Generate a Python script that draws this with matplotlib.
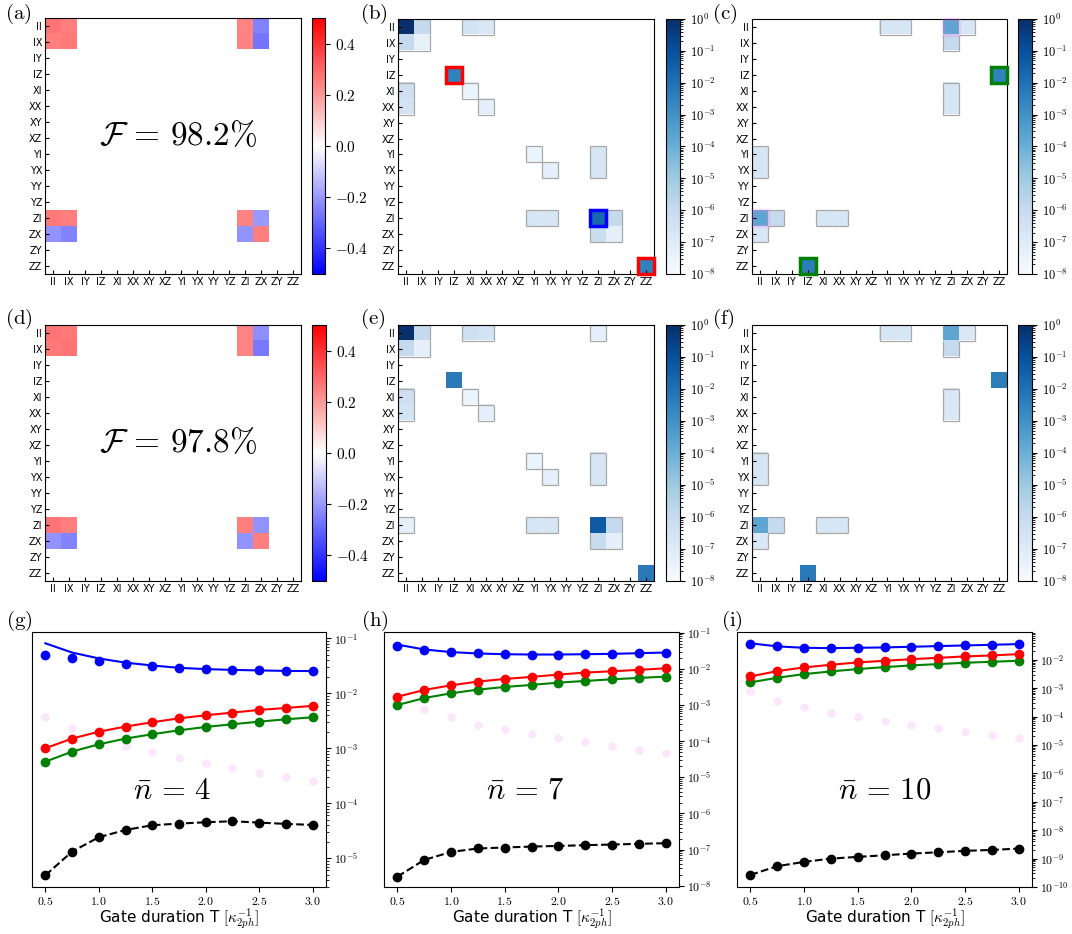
import numpy as np
import matplotlib
matplotlib.use('Agg')
import matplotlib.pyplot as plt
from matplotlib.colors import LogNorm, Normalize
from matplotlib.patches import Rectangle
from matplotlib.collections import LineCollection
from matplotlib.ticker import FuncFormatter, LogLocator

plt.rcParams['mathtext.fontset'] = 'cm'

paulis = ['II', 'IX', 'IY', 'IZ', 'XI', 'XX', 'XY', 'XZ',
          'YI', 'YX', 'YY', 'YZ', 'ZI', 'ZX', 'ZY', 'ZZ']

# real part of the process matrix, non-zero block only
block_labels = ['II', 'IX', 'ZI', 'ZX']
chi_re_a = [[0.27, 0.25, 0.24, -0.24],
            [0.25, 0.26, 0.24, -0.27],
            [0.26, 0.25, 0.24, -0.20],
            [-0.21, -0.24, -0.21, 0.25]]
chi_re_d = [[0.27, 0.26, 0.24, -0.22],
            [0.26, 0.27, 0.24, -0.26],
            [0.27, 0.25, 0.25, -0.21],
            [-0.21, -0.24, -0.21, 0.25]]
fidelity_a = 98.2
fidelity_d = 97.8

# |error process matrix| entries (row, col, value)
err_b = [('II', 'II', 0.9), ('II', 'IX', 1e-6), ('IX', 'II', 1e-6), ('IX', 'IX', 4e-8),
         ('II', 'XI', 3e-7), ('II', 'XX', 1.5e-7),
         ('IZ', 'IZ', 3e-3),
         ('XI', 'II', 5e-7), ('XX', 'II', 3e-7), ('XI', 'XI', 3e-8), ('XX', 'XX', 5e-8),
         ('YI', 'YI', 3e-8), ('YX', 'YX', 5e-8), ('YI', 'ZI', 2e-7), ('YX', 'ZI', 2e-7),
         ('ZI', 'YI', 2e-7), ('ZI', 'YX', 2e-7), ('ZI', 'ZI', 2e-2), ('ZI', 'ZX', 1e-6),
         ('ZX', 'ZI', 6e-7), ('ZX', 'ZX', 5e-8),
         ('ZZ', 'ZZ', 3e-3)]
err_c = [('II', 'YI', 2e-7), ('II', 'YX', 2e-7), ('II', 'ZI', 2e-4), ('II', 'ZX', 2e-7),
         ('IX', 'ZI', 1e-6), ('IZ', 'ZZ', 3e-3),
         ('XI', 'ZI', 2e-7), ('XX', 'ZI', 2e-7),
         ('YI', 'II', 2e-7), ('YX', 'II', 2e-7),
         ('ZI', 'II', 2e-4), ('ZI', 'IX', 1e-6), ('ZI', 'XI', 2e-7), ('ZI', 'XX', 2e-7),
         ('ZX', 'II', 1.5e-7), ('ZZ', 'IZ', 4e-3)]
err_e = [('II', 'II', 0.9), ('II', 'IX', 1e-6), ('IX', 'II', 1e-6), ('IX', 'IX', 5e-8),
         ('II', 'XI', 5e-7), ('II', 'XX', 3e-7), ('II', 'ZI', 5e-8),
         ('IZ', 'IZ', 5e-3),
         ('XI', 'II', 5e-7), ('XX', 'II', 3e-7), ('XI', 'XI', 3e-8), ('XX', 'XX', 5e-8),
         ('YI', 'YI', 3e-8), ('YX', 'YX', 5e-8), ('YI', 'ZI', 2e-7), ('YX', 'ZI', 2e-7),
         ('ZI', 'II', 5e-8), ('ZI', 'YI', 2e-7), ('ZI', 'YX', 2e-7), ('ZI', 'ZI', 5e-2),
         ('ZI', 'ZX', 1e-6), ('ZX', 'ZI', 8e-7), ('ZX', 'ZX', 5e-8),
         ('ZZ', 'ZZ', 5e-3)]
err_f = [('II', 'YI', 2e-7), ('II', 'YX', 2e-7), ('II', 'ZI', 2e-4), ('II', 'ZX', 1.5e-7),
         ('IX', 'ZI', 1e-6), ('IZ', 'ZZ', 4e-3),
         ('XI', 'ZI', 1.5e-7), ('XX', 'ZI', 1.5e-7),
         ('YI', 'II', 2e-7), ('YX', 'II', 2e-7),
         ('ZI', 'II', 2e-4), ('ZI', 'IX', 1e-6), ('ZI', 'XI', 2e-7), ('ZI', 'XX', 2e-7),
         ('ZX', 'II', 1.5e-7), ('ZZ', 'IZ', 5e-3)]

# highlighted entries (row, col, colour)
marks_b = [('IZ', 'IZ', 'red'), ('ZZ', 'ZZ', 'red'), ('ZI', 'ZI', 'blue')]
marks_c = [('IZ', 'ZZ', 'green'), ('ZZ', 'IZ', 'green'),
           ('II', 'ZI', 'violet'), ('ZI', 'II', 'violet')]

# error rates vs gate duration
T = [0.5, 0.75, 1.0, 1.25, 1.5, 1.75, 2.0, 2.25, 2.5, 2.75, 3.0]
nbar = [4, 7, 10]
blue_pts = [
    [0.050, 0.044, 0.038, 0.034, 0.031, 0.029, 0.0275, 0.027, 0.026, 0.0257, 0.0255],
    [0.0417, 0.0337, 0.029, 0.0267, 0.0255, 0.025, 0.025, 0.0255, 0.0261, 0.0272, 0.0284],
    [0.0366, 0.0294, 0.0264, 0.0257, 0.0264, 0.0272, 0.0287, 0.0303, 0.0319, 0.0337, 0.0356]]
blue_line = [
    [0.081, 0.055, 0.043, 0.036, 0.032, 0.029, 0.0275, 0.0266, 0.026, 0.0255, 0.0253],
    [0.047, 0.0345, 0.0292, 0.0267, 0.0255, 0.025, 0.025, 0.0255, 0.0261, 0.0272, 0.0284],
    [0.038, 0.0296, 0.0264, 0.0257, 0.0264, 0.0272, 0.0287, 0.0303, 0.0319, 0.0337, 0.0356]]
red_pts = [
    [1.0e-3, 1.5e-3, 2.0e-3, 2.48e-3, 2.97e-3, 3.5e-3, 3.98e-3, 4.45e-3, 4.98e-3, 5.4e-3, 5.9e-3],
    [1.7e-3, 2.61e-3, 3.52e-3, 4.45e-3, 5.27e-3, 6.0e-3, 6.96e-3, 7.9e-3, 8.6e-3, 9.4e-3, 1.04e-2],
    [2.59e-3, 3.99e-3, 5.37e-3, 6.67e-3, 8.05e-3, 9.2e-3, 1.05e-2, 1.17e-2, 1.31e-2, 1.42e-2, 1.58e-2]]
green_pts = [
    [5.7e-4, 8.7e-4, 1.18e-3, 1.5e-3, 1.8e-3, 2.12e-3, 2.44e-3, 2.73e-3, 3.05e-3, 3.36e-3, 3.66e-3],
    [1.0e-3, 1.56e-3, 2.11e-3, 2.67e-3, 3.16e-3, 3.6e-3, 4.17e-3, 4.64e-3, 5.16e-3, 5.62e-3, 6.12e-3],
    [1.6e-3, 2.33e-3, 3.13e-3, 3.89e-3, 4.7e-3, 5.52e-3, 6.32e-3, 7.05e-3, 7.84e-3, 8.51e-3, 9.22e-3]]
pink_pts = [
    [3.77e-3, 2.31e-3, 1.63e-3, 1.1e-3, 8.45e-4, 6.6e-4, 5.3e-4, 4.3e-4, 3.56e-4, 2.97e-4, 2.5e-4],
    [1.4e-3, 7.75e-4, 4.54e-4, 2.78e-4, 2.15e-4, 1.56e-4, 1.21e-4, 9.2e-5, 7.26e-5, 5.87e-5, 4.74e-5],
    [7.7e-4, 3.61e-4, 2.16e-4, 1.37e-4, 9.6e-5, 6.78e-5, 5.18e-5, 3.85e-5, 2.94e-5, 2.24e-5, 1.71e-5]]
black_pts = [
    [4.9e-6, 1.32e-5, 2.41e-5, 3.27e-5, 3.98e-5, 4.27e-5, 4.51e-5, 4.71e-5, 4.45e-5, 4.21e-5, 4.04e-5],
    [1.78e-8, 5.16e-8, 8.6e-8, 1.07e-7, 1.14e-7, 1.21e-7, 1.26e-7, 1.32e-7, 1.38e-7, 1.44e-7, 1.5e-7],
    [2.67e-10, 5.4e-10, 7.66e-10, 1.0e-9, 1.15e-9, 1.31e-9, 1.5e-9, 1.67e-9, 1.87e-9, 2.02e-9, 2.25e-9]]
ylims = [(3e-6, 0.13), (9.2e-9, 0.105), (1e-10, 0.095)]

W, H = 1072, 934
fig = plt.figure(figsize=(W / 100, H / 100), dpi=100)


def box(l, t, r, b):
    return [l / W, 1 - b / H, (r - l) / W, (b - t) / H]


def label(x, y, s):
    fig.text(x / W, 1 - y / H, r'$\mathrm{(' + s + ')}$', fontsize=15, va='center', ha='left')


def to_matrix(entries):
    M = np.zeros((16, 16))
    for r, c, v in entries:
        M[paulis.index(r), paulis.index(c)] = v
    return M


def setup_matrix_axes(ax):
    ax.set_xticks(range(16))
    ax.set_yticks(range(16))
    ax.set_xticklabels(paulis, fontsize=7)
    ax.set_yticklabels(paulis, fontsize=7)
    ax.tick_params(direction='in', length=3, pad=2)
    ax.set_xlim(-0.5, 15.5)
    ax.set_ylim(15.5, -0.5)


def outline(ax, M, light=1e-5):
    # grey edge around the faint cells
    segs = []
    for i in range(16):
        for j in range(16):
            v = M[i, j]
            if v <= 0 or v > light:
                continue
            sides = [(-1, 0, [(j - .5, i - .5), (j + .5, i - .5)]),
                     (1, 0, [(j - .5, i + .5), (j + .5, i + .5)]),
                     (0, -1, [(j - .5, i - .5), (j - .5, i + .5)]),
                     (0, 1, [(j + .5, i - .5), (j + .5, i + .5)])]
            for di, dj, seg in sides:
                ii, jj = i + di, j + dj
                if 0 <= ii < 16 and 0 <= jj < 16 and M[ii, jj] > 0:
                    continue
                segs.append(seg)
    ax.add_collection(LineCollection(segs, colors='#a8a8a8', linewidths=0.9))


def real_panel(axbox, cbbox, chi, fid):
    M = np.zeros((16, 16))
    for a, r in enumerate(block_labels):
        for b, c in enumerate(block_labels):
            M[paulis.index(r), paulis.index(c)] = chi[a][b]
    ax = fig.add_axes(box(*axbox))
    im = ax.imshow(M, cmap='bwr', norm=Normalize(-0.5, 0.5), aspect='auto',
                   interpolation='nearest')
    setup_matrix_axes(ax)
    ax.text(0.52, 0.54, r'$\mathcal{F}\,=\,%.1f\%%$' % fid, transform=ax.transAxes,
            fontsize=24, ha='center', va='center')
    cax = fig.add_axes(box(*cbbox))
    cb = fig.colorbar(im, cax=cax)
    cb.set_ticks([-0.4, -0.2, 0.0, 0.2, 0.4])
    cb.ax.yaxis.set_major_formatter(FuncFormatter(lambda x, p: r'$%.1f$' % x))
    cb.ax.tick_params(labelsize=11)


def log_panel(axbox, cbbox, entries, marks=()):
    M = to_matrix(entries)
    ax = fig.add_axes(box(*axbox))
    im = ax.imshow(M, cmap='Blues', norm=LogNorm(1e-8, 1), aspect='auto',
                   interpolation='nearest')
    setup_matrix_axes(ax)
    outline(ax, M)
    for r, c, col in marks:
        i, j = paulis.index(r), paulis.index(c)
        alpha = 0.25 if col == 'violet' else 1.0
        ax.add_patch(Rectangle((j - 0.5, i - 0.5), 1, 1, fill=False, edgecolor=col,
                               lw=2.5, alpha=alpha, clip_on=False, zorder=5))
    cax = fig.add_axes(box(*cbbox))
    cb = fig.colorbar(im, cax=cax)
    cb.set_ticks([10.0 ** k for k in range(-8, 1)])
    cb.ax.yaxis.set_major_formatter(
        FuncFormatter(lambda x, p: r'$10^{%d}$' % round(np.log10(x))))
    cb.ax.tick_params(labelsize=9)


# top row
real_panel((45, 18, 301, 274), (312, 18, 325, 274), chi_re_a, fidelity_a)
log_panel((398, 19, 654, 274), (666, 19, 680, 274), err_b, marks_b)
log_panel((752, 19, 1007, 274), (1018, 19, 1032, 274), err_c, marks_c)
# middle row
real_panel((45, 325, 301, 581), (312, 325, 326, 581), chi_re_d, fidelity_d)
log_panel((398, 325, 654, 581), (666, 325, 680, 581), err_e)
log_panel((752, 325, 1007, 581), (1018, 325, 1032, 581), err_f)

# bottom row
boxes = [(32, 632, 326, 887), (384, 632, 679, 887), (737, 632, 1032, 887)]
ntext_x = [0.476, 0.478, 0.50]
for k in range(3):
    ax = fig.add_axes(box(*boxes[k]))
    ax.set_yscale('log')
    ax.plot(T, pink_pts[k], 'o', color='violet', alpha=0.2, ms=6, mew=0, zorder=1)
    ax.plot(T, black_pts[k], 'o--', color='k', ms=6, lw=1.5)
    ax.plot(T, green_pts[k], 'o-', color='g', ms=6, lw=1.5)
    ax.plot(T, red_pts[k], 'o-', color='r', ms=6, lw=1.5)
    ax.plot(T, blue_line[k], '-', color='b', lw=1.5)
    ax.plot(T, blue_pts[k], 'o', color='b', ms=6)
    ax.set_ylim(*ylims[k])
    ax.yaxis.tick_right()
    ax.yaxis.set_major_locator(LogLocator(base=10, numticks=20))
    ax.yaxis.set_major_formatter(
        FuncFormatter(lambda x, p: r'$10^{%d}$' % round(np.log10(x))))
    ax.set_xticks([0.5, 1.0, 1.5, 2.0, 2.5, 3.0])
    ax.xaxis.set_major_formatter(FuncFormatter(lambda x, p: r'$%.1f$' % x))
    ax.tick_params(labelsize=8.5)
    ax.tick_params(axis='x', pad=2)
    ax.tick_params(axis='y', which='both', pad=2)
    ax.set_xlabel(r'Gate duration T $[\kappa_{2ph}^{-1}]$', fontsize=11)
    ax.xaxis.set_label_coords(0.5, -0.078)
    ax.text(ntext_x[k], 0.38, r'$\bar{n}\,=\,%d$' % nbar[k], transform=ax.transAxes,
            fontsize=22, ha='center', va='center')

label(5, 14, 'a')
label(360, 14, 'b')
label(712, 14, 'c')
label(5, 319, 'd')
label(360, 319, 'e')
label(712, 319, 'f')
label(6, 621, 'g')
label(361, 621, 'h')
label(721, 621, 'i')

fig.savefig('out.png', dpi=100)
